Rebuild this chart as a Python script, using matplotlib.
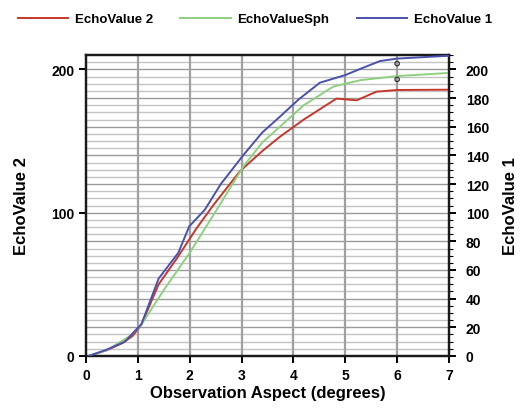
import matplotlib
matplotlib.use("Agg")
import matplotlib.pyplot as plt
from matplotlib.ticker import MultipleLocator, FixedLocator

plt.rcParams['font.family'] = ['Liberation Sans', 'DejaVu Sans']
plt.rcParams['font.weight'] = 'bold'

# EchoValue 2 (left axis)
x_ev2 = [0.05, 0.4, 0.7, 0.9, 1.07, 1.4, 1.75, 2.13, 2.45, 2.97, 3.4, 3.74, 4.2, 4.83, 5.22, 5.6, 6.0, 7.0]
y_ev2 = [0, 4, 9, 14, 22, 50, 68, 89, 105, 129, 143, 153, 165, 179.6, 178.4, 184.4, 185.6, 185.8]

# EchoValueSph (left axis)
x_sph = [0.05, 0.4, 0.85, 1.07, 1.5, 2.0, 2.52, 3.03, 3.4, 3.74, 4.2, 4.77, 5.3, 6.0, 7.0]
y_sph = [0, 4, 14, 22, 46, 72, 102, 132, 149, 160, 175, 188, 192.5, 195.3, 197.5]

# EchoValue 1 (right axis)
x_ev1 = [0.05, 0.4, 0.75, 1.07, 1.4, 1.78, 1.99, 2.29, 2.6, 3.03, 3.4, 3.74, 4.1, 4.51, 5.0, 5.3, 5.67, 6.0, 7.0]
y_ev1 = [0, 4.4, 10, 22.3, 54, 72, 90.4, 102, 120, 140, 156, 167, 179, 190.7, 196, 200.5, 205.8, 207.5, 209.5]

# small open circles at x = 6
x_marks = [6.0, 6.0]
y_marks = [204, 193]

fig = plt.figure(figsize=(5.2, 4.14), dpi=100)
ax = fig.add_axes([0.1654, 0.1377, 0.6981, 0.727])
ax2 = ax.twinx()

ax.set_xlim(0, 7)
ax.set_ylim(0, 210)
ax2.set_ylim(0, 210)

# grid
for v in range(5, 210, 5):
    c = '#9a9a9a' if v % 20 == 0 else '#c4c4c4'
    ax.axhline(v, color=c, lw=1.0, zorder=0)
for xv in range(1, 7):
    ax.axvline(xv, color='#a0a0a0', lw=1.6, zorder=0)

l1, = ax.plot(x_ev2, y_ev2, color='#c4382c', lw=1.4, label='EchoValue 2', zorder=3)
l2, = ax.plot(x_sph, y_sph, color='#8fd080', lw=1.4, label='EchoValueSph', zorder=3)
l3, = ax2.plot(x_ev1, y_ev1, color='#4a51ad', lw=1.4, label='EchoValue 1', zorder=3)
ax2.scatter(x_marks, y_marks, s=10, facecolors='none', edgecolors='#333333', linewidths=0.9, zorder=4)

ax.xaxis.set_major_locator(MultipleLocator(1))
ax.yaxis.set_major_locator(FixedLocator([0, 100, 200]))
ax2.yaxis.set_major_locator(MultipleLocator(20))
ax2.yaxis.set_minor_locator(MultipleLocator(5))

for a in (ax, ax2):
    for s in a.spines.values():
        s.set_linewidth(1.6)
        s.set_color('#1a1a1a')
    a.tick_params(width=1.4, length=5, labelsize=10)
ax2.tick_params(axis='y', pad=7)
ax2.tick_params(which='minor', length=3, width=0.8)
for lab in ax.get_xticklabels() + ax.get_yticklabels() + ax2.get_yticklabels():
    lab.set_fontweight('bold')

ax.set_xlabel('Observation Aspect (degrees)', fontsize=12, fontweight='bold', labelpad=2)
ax.set_ylabel('EchoValue 2', fontsize=12, fontweight='bold', labelpad=16)
ax2.set_ylabel('EchoValue 1', fontsize=12, fontweight='bold', labelpad=10)

fig.legend(handles=[l1, l2, l3], loc='upper center', bbox_to_anchor=(0.49, 0.995), ncol=3,
           frameon=False, handlelength=3.8, handletextpad=0.5, columnspacing=2.1,
           prop={'weight': 'bold', 'size': 9.5})

fig.savefig('out.png', dpi=100)
